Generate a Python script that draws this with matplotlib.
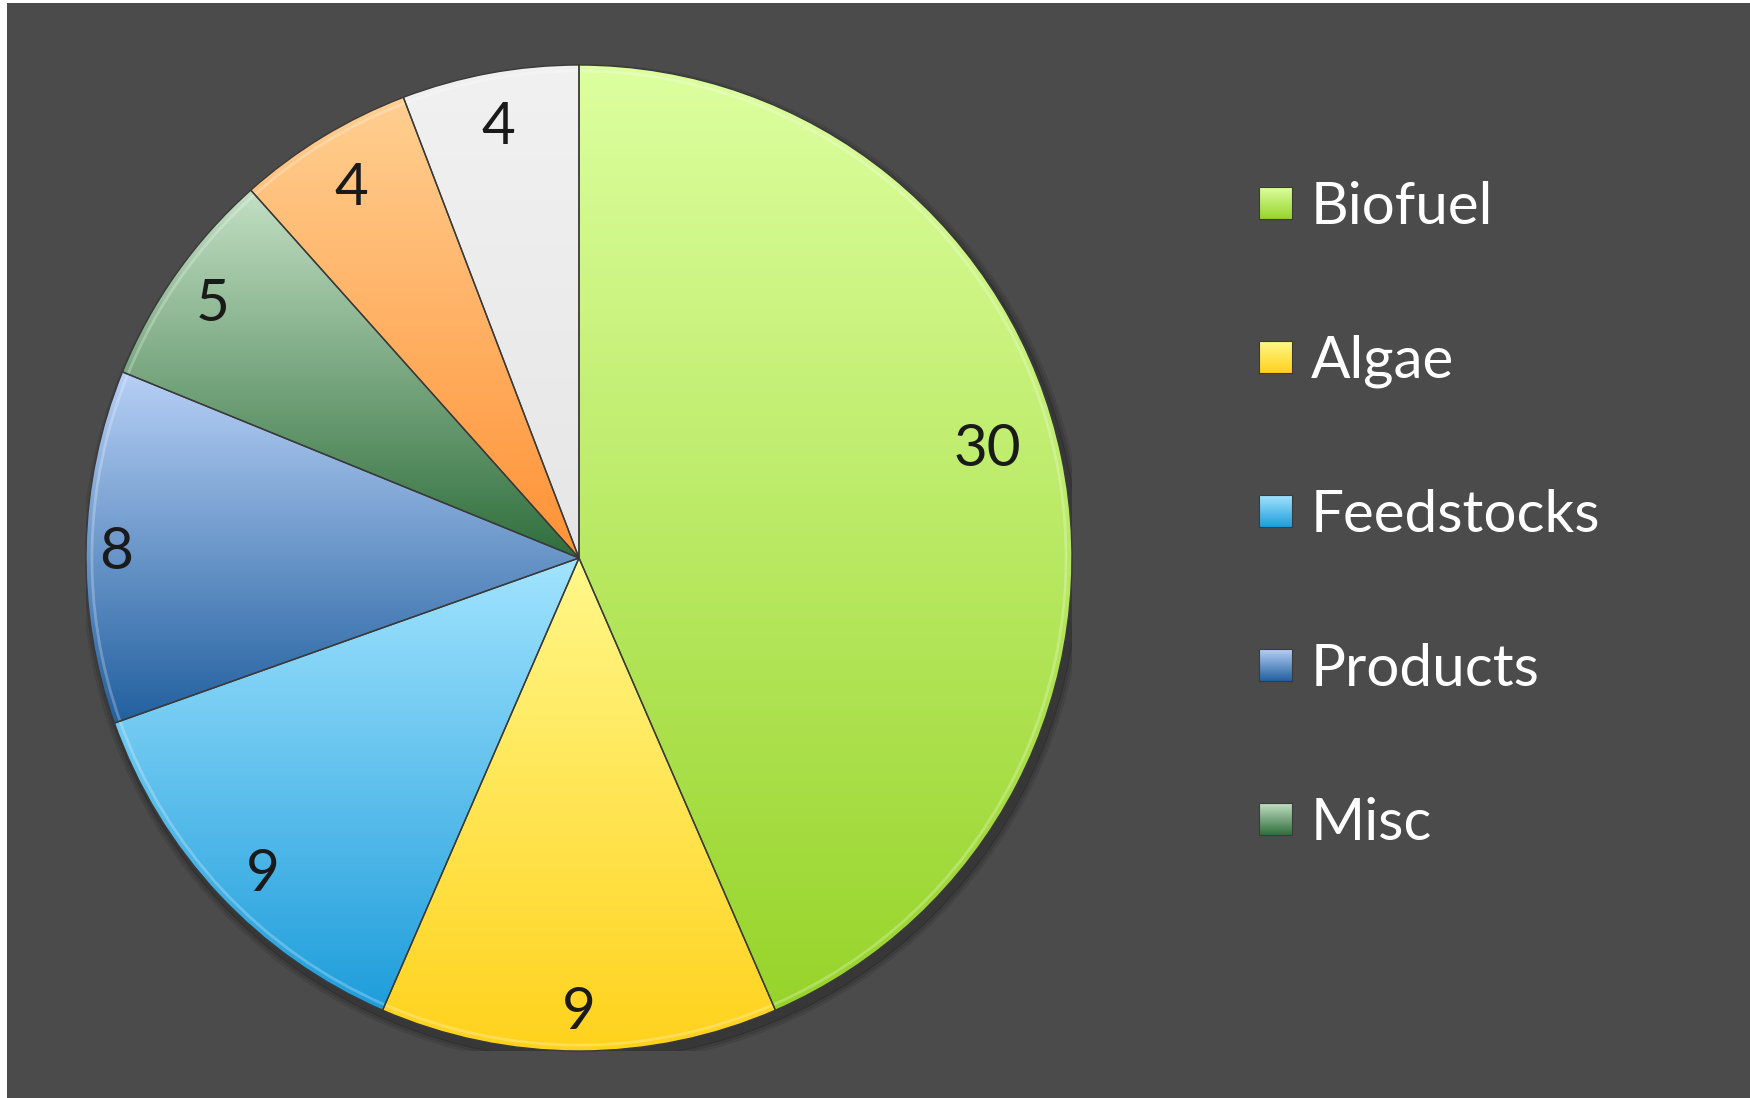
import numpy as np
import matplotlib
matplotlib.use("Agg")
import matplotlib.pyplot as plt
from matplotlib.colors import LinearSegmentedColormap
from matplotlib.patches import Rectangle

plt.rcParams['font.family'] = ['Lato', 'DejaVu Sans']

# ---- data ----
categories = ["Biofuel", "Algae", "Feedstocks", "Products", "Misc", "Other 1", "Other 2"]
values = [30, 9, 9, 8, 5, 4, 4]
legend_count = 5  # only first five categories appear in the legend
top_colors = ["#ddff9f", "#fff88a", "#a2e4ff", "#b7d0f6", "#c3e0c4", "#ffcf91", "#f1f1f1"]
bottom_colors = ["#97d42a", "#ffd21c", "#1e9ddb", "#22609f", "#2f6e3c", "#ff9236", "#e6e6e6"]

W, H = 1750, 1098
fig = plt.figure(figsize=(W / 100, H / 100), dpi=100, facecolor="white")

# background overlay in pixel coordinates
bg = fig.add_axes([0, 0, 1, 1], zorder=0)
bg.set_xlim(0, W)
bg.set_ylim(H, 0)
bg.axis("off")
bg.add_patch(Rectangle((7, 3), W, H, facecolor="#4b4b4b", edgecolor="none"))

# pie axes
cx, cy, r = 579, 558, 493
ax = fig.add_axes([(cx - r) / W, (H - cy - r) / H, 2 * r / W, 2 * r / H], zorder=1)
ax.set_aspect("equal")
ax.axis("off")

# soft shadow
for k, a in enumerate([0.12, 0.09, 0.06]):
    sh = plt.Circle((0.008, -0.014), 1.0 + 0.005 * (k + 1), color="black", alpha=a, zorder=0)
    ax.add_patch(sh)

wedges, _ = ax.pie(values, startangle=90, counterclock=False, radius=1.0,
                   wedgeprops=dict(edgecolor="#3a3a3a", linewidth=1.0))

grad = np.linspace(0, 1, 256).reshape(-1, 1)
for w, tc, bc in zip(wedges, top_colors, bottom_colors):
    w.set_facecolor("none")
    w.set_zorder(4)
    verts = w.get_path().vertices
    x0, x1 = verts[:, 0].min(), verts[:, 0].max()
    y0, y1 = verts[:, 1].min(), verts[:, 1].max()
    cmap = LinearSegmentedColormap.from_list("g", [bc, tc])
    im = ax.imshow(grad, cmap=cmap, extent=[x0, x1, y0, y1], origin="lower",
                   aspect="auto", zorder=2, interpolation="bicubic")
    im.set_clip_path(w)
    # subtle bevel highlight along the outer rim
    hl = matplotlib.patches.Arc(w.center, 2 * w.r * 0.988, 2 * w.r * 0.988,
                                theta1=w.theta1, theta2=w.theta2,
                                edgecolor="white", linewidth=2.0, alpha=0.25, zorder=3)
    ax.add_patch(hl)

ax.set_xlim(-1.0, 1.0)
ax.set_ylim(-1.0, 1.0)

# value labels
label_dist = [0.86, 0.91, 0.90, 0.94, 0.91, 0.89, 0.90]
label_shift = [3.9, 0, 1.5, 0, 0, 0, 0]
for w, v, d, s in zip(wedges, values, label_dist, label_shift):
    ang = np.deg2rad((w.theta1 + w.theta2) / 2 + s)
    ax.text(d * np.cos(ang), d * np.sin(ang) - 0.011, str(v), ha="center", va="center",
            fontsize=42, color="#1a1a1a", zorder=5)

# legend
lx, ly0, dy = 1259, 203, 154
for i in range(legend_count):
    y = ly0 + dy * i
    cmap = LinearSegmentedColormap.from_list("g", [top_colors[i], bottom_colors[i]])
    bg.imshow(grad, cmap=cmap, extent=[lx, lx + 33, y + 16, y - 16],
              aspect="auto", zorder=2, origin="upper")
    bg.add_patch(Rectangle((lx, y - 16), 33, 32, facecolor="none",
                           edgecolor="#3a3a3a", linewidth=0.8, zorder=3))
    bg.text(lx + 52, y + 4, categories[i], ha="left", va="center",
            fontsize=42, color="white", zorder=3)

bg.set_xlim(0, W)
bg.set_ylim(H, 0)

fig.savefig("out.png", dpi=100, facecolor="white")
